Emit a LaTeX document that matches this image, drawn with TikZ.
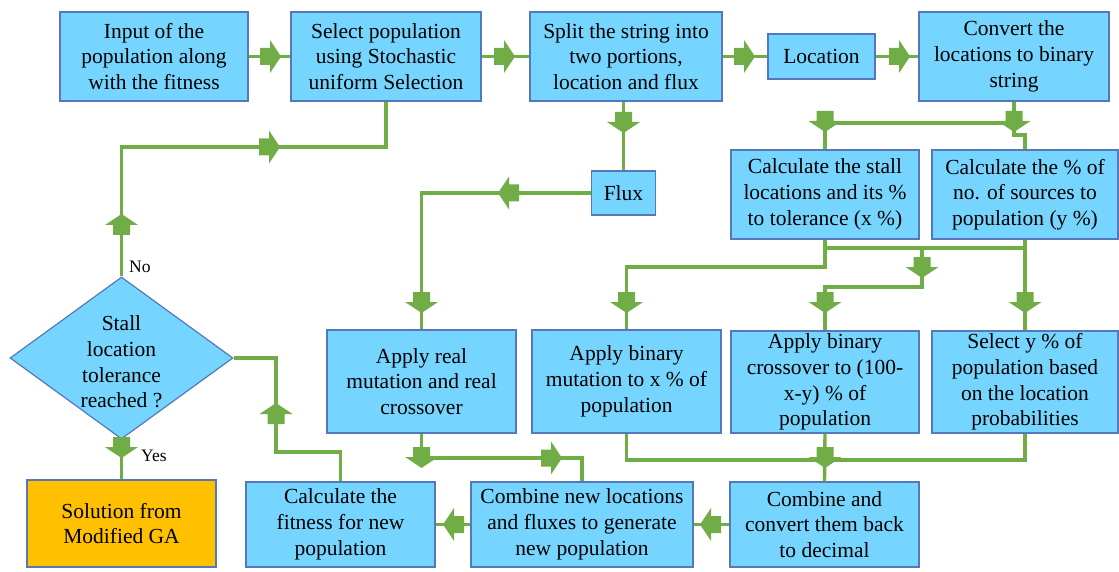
\documentclass[tikz,border=0pt]{standalone}
\usepackage{fontspec}
\setmainfont{Liberation Serif}
\usetikzlibrary{shapes.geometric}
\definecolor{boxfill}{RGB}{117,213,254}
\definecolor{boxline}{RGB}{84,120,186}
\definecolor{flowgreen}{RGB}{112,173,71}
\definecolor{gold}{RGB}{255,192,0}

\begin{document}
\begin{tikzpicture}[x=1pt,y=-1pt,
  box/.style={draw=boxline, fill=boxfill, line width=1.2pt, align=center,
    inner sep=0pt, font=\fontsize{21.5}{25.7}\selectfont},
  flow/.style={draw=flowgreen, line width=3.4pt},
  tag/.style={font=\fontsize{17.5}{20}\selectfont, anchor=west, inner sep=0pt},
  blockhead/.pic={\fill[flowgreen] (0,0) -- (-11,16.5) -- (-11,8.5) -- (-21,8.5)
    -- (-21,-8.5) -- (-11,-8.5) -- (-11,-16.5) -- cycle;}]
\useasboundingbox (0,0) rectangle (1119,572);

% top row
\node[box, minimum width=188pt, minimum height=89pt] (input) at (154,56.5) {Input of the\\population along\\with the fitness};
\node[box, minimum width=190pt, minimum height=89pt] (sel) at (386,56.5) {Select population\\using Stochastic\\uniform Selection};
\node[box, minimum width=192pt, minimum height=89pt] (split) at (626,56.5) {Split the string into\\two portions,\\location and flux};
\node[box, minimum width=107pt, minimum height=45pt] (loc) at (821.5,56.5) {Location};
\node[box, minimum width=190pt, minimum height=89pt] (conv) at (1014,56.5) {Convert the\\locations to binary\\string};

% second row
\node[box, minimum width=64pt, minimum height=44pt] (flux) at (623.5,193) {Flux};
\node[box, minimum width=188pt, minimum height=89pt] (stall) at (825,194.5) {Calculate the stall\\locations and its \%\\to tolerance (x \%)};
\node[box, minimum width=186pt, minimum height=89pt] (pct) at (1025,194.5) {Calculate the \% of\\no. of sources to\\population (y \%)};

% third row
\node[box, minimum width=189pt, minimum height=103pt] (real) at (421.5,381.5) {Apply real\\mutation and real\\crossover};
\node[box, minimum width=189pt, minimum height=103pt] (mut) at (626.5,381.5) {Apply binary\\mutation to x \% of\\population};
\node[box, minimum width=188pt, minimum height=102pt] (cross) at (825,382) {Apply binary\\crossover to (100-\\x-y) \% of\\population};
\node[box, minimum width=186pt, minimum height=102pt] (sely) at (1025,382) {Select y \% of\\population based\\on the location\\probabilities};

% bottom row
\node[box, minimum width=189pt, minimum height=85pt] (cc) at (824.5,524.5) {Combine and\\convert them back\\to decimal};
\node[box, minimum width=222pt, minimum height=85pt] (comb) at (582,524.5) {Combine new locations\\and fluxes to generate\\new population};
\node[box, minimum width=189pt, minimum height=85pt] (fit) at (340.5,524.5) {Calculate the\\fitness for new\\population};
\node[box, fill=gold, minimum width=189pt, minimum height=87pt] (sol) at (121.5,523.5) {Solution from\\Modified GA};

% decision
\node[box, diamond, minimum width=223pt, minimum height=162pt] (dia) at (121.5,358) {};
\node[align=center, inner sep=0pt, font=\fontsize{21.5}{25.7}\selectfont] (diatext) at (121.5,362) {Stall\\location\\tolerance\\reached ?};

% connectors
\draw[flow] (input.east) -- (sel.west);
\draw[flow] (sel.east) -- (split.west);
\draw[flow] (split.east) -- (loc.west);
\draw[flow] (loc.east) -- (conv.west);
\draw[flow] (split.south -| flux.north) -- (flux.north);
\draw[flow] (flux.west) -| (real.north);
\draw[flow] (conv.south) -- (conv.south |- 0,135) -| (pct.north);
\draw[flow] (conv.south |- 0,123) -| (stall.north);
\draw[flow] (stall.south) -- (stall.south |- 0,267) -| (mut.north);
\draw[flow] (stall.south |- 0,248) -- (pct.south |- 0,248);
\draw[flow] (pct.south) -- (sely.north);
\coordinate (fork) at (922,248);
\draw[flow] (fork) -- (922,287) -| (cross.north);
\draw[flow] (real.south) -- (real.south |- 0,458) -| (comb.north);
\draw[flow] (mut.south) -- (mut.south |- 0,460) -| (sely.south);
\draw[flow] (cross.south) -- (cc.north);
\draw[flow] (cc.west) -- (comb.east);
\draw[flow] (comb.west) -- (fit.east);
\draw[flow] (fit.north) -- (fit.north |- 0,452) -| (276,358) -- (dia.east);
\draw[flow] (dia.south) -- (sol.north);
\draw[flow] (dia.north) -- (dia.north |- 0,147) -| (sel.south);

% block arrowheads along the connectors
\pic at (281,56.5) {blockhead};
\pic at (515,56.5) {blockhead};
\pic at (755,56.5) {blockhead};
\pic at (910,56.5) {blockhead};
\pic[rotate=-90] at (623.5,133) {blockhead};
\pic[rotate=180] at (498,193) {blockhead};
\pic[rotate=-90] at (421.5,313) {blockhead};
\pic[rotate=90] at (121.5,214) {blockhead};
\pic at (280,147) {blockhead};
\pic[rotate=-90] at (1014,132) {blockhead};
\pic[rotate=-90] at (825,132) {blockhead};
\pic[rotate=-90] at (922,278) {blockhead};
\pic[rotate=-90] at (626.5,313) {blockhead};
\pic[rotate=-90] at (825,313) {blockhead};
\pic[rotate=-90] at (1025,313) {blockhead};
\pic[rotate=-90] at (421.5,468) {blockhead};
\pic at (562,458) {blockhead};
\pic[rotate=-90] at (825,468) {blockhead};
\pic[rotate=180] at (700,524.5) {blockhead};
\pic[rotate=180] at (443,524.5) {blockhead};
\pic[rotate=90] at (276,403) {blockhead};
\pic[rotate=-90] at (121.5,458) {blockhead};

% branch labels
\node[tag] (no) at (129,267) {No};
\node[tag] (yes) at (141,456) {Yes};
\end{tikzpicture}
\end{document}
